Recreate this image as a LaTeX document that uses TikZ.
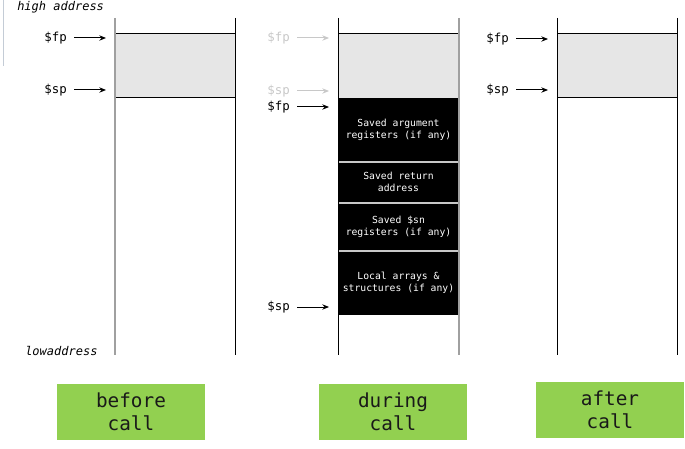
\documentclass[tikz,border=0pt]{standalone}
\usepackage{fontspec}
\setmonofont{DejaVu Sans Mono}
\usetikzlibrary{arrows.meta}
\definecolor{bandgrey}{HTML}{E6E6E6}
\definecolor{lightgrey}{HTML}{C8C8C8}
\definecolor{callgreen}{HTML}{92D050}
\definecolor{colgrey}{HTML}{A0A0A0}
\definecolor{edgeblue}{HTML}{C4CCD6}
\tikzset{
  x=0.75pt, y=-0.75pt,
  ptr/.style={font=\ttfamily\fontsize{9.3}{10}\selectfont, inner sep=0pt, anchor=east},
  ptrarrow/.style={-{Stealth[length=5pt,width=4pt]}, line width=0.75pt},
  addr/.style={font=\ttfamily\itshape\fontsize{9}{10}\selectfont, inner sep=0pt},
  blk/.style={font=\ttfamily\fontsize{7.3}{9}\selectfont, text=white, align=center, inner sep=0pt},
  callbox/.style={fill=callgreen, minimum width=111pt, minimum height=42pt, inner sep=0pt,
    font=\ttfamily\fontsize{14.5}{17}\selectfont, text=black!90, align=center},
  thin/.style={line width=0.75pt}
}
\begin{document}
\begin{tikzpicture}
\useasboundingbox (0,0) rectangle (685,449);
% stray edge line
\draw[edgeblue, line width=0.75pt] (3.5,0) -- (3.5,66);

\node[addr, anchor=west] (hi) at (17,7) {high address};
\node[addr, anchor=west] (lo) at (25,351) {lowaddress};

% ---------- before call ----------
\fill[bandgrey] (115,34) rectangle (235,98);
\draw[thin] (115,34) -- (235,34);
\draw[thin] (115,98) -- (235,98);
\draw[colgrey, line width=1.5pt] (115,18) -- (115,355);
\draw[thin] (235,18) -- (235,355);
\coordinate (bfpT) at (106,38);
\coordinate (bspT) at (106,90);
\node[ptr] (bfp) at (67,38) {\$fp};
\node[ptr] (bsp) at (67,90) {\$sp};
\draw[ptrarrow] ([xshift=5.5pt]bfp.east) -- (bfpT);
\draw[ptrarrow] ([xshift=5.5pt]bsp.east) -- (bspT);

% ---------- during call ----------
\fill[bandgrey] (338,34) rectangle (459,98);
\fill[black] (338,98) rectangle (459,315);
\draw[thin] (338,34) -- (459,34);
\draw[lightgrey, line width=1pt] (338,162) -- (459,162);
\draw[lightgrey, line width=1pt] (338,203) -- (459,203);
\draw[lightgrey, line width=1pt] (338,251) -- (459,251);
\draw[thin] (338,18) -- (338,355);
\draw[colgrey, line width=1.5pt] (459,18) -- (459,355);
\node[blk] (b1) at (398.5,130) {Saved argument\\registers (if any)};
\node[blk] (b2) at (398.5,182) {Saved return\\address};
\node[blk] (b3) at (398.5,227) {Saved \$sn\\registers (if any)};
\node[blk] (b4) at (398.5,283) {Local arrays \&\\structures (if any)};
\coordinate (dfpoT) at (329,38);
\coordinate (dspoT) at (329,91);
\coordinate (dfpT) at (329,107);
\coordinate (dspT) at (329,307);
\node[ptr, text=lightgrey] (dfpo) at (290,38) {\$fp};
\node[ptr, text=lightgrey] (dspo) at (290,91) {\$sp};
\node[ptr] (dfp) at (290,107) {\$fp};
\node[ptr] (dsp) at (290,307) {\$sp};
\draw[ptrarrow, lightgrey] ([xshift=5.5pt]dfpo.east) -- (dfpoT);
\draw[ptrarrow, lightgrey] ([xshift=5.5pt]dspo.east) -- (dspoT);
\draw[ptrarrow] ([xshift=5.5pt]dfp.east) -- (dfpT);
\draw[ptrarrow] ([xshift=5.5pt]dsp.east) -- (dspT);

% ---------- after call ----------
\fill[bandgrey] (557,34) rectangle (677,98);
\draw[thin] (557,34) -- (677,34);
\draw[thin] (557,98) -- (677,98);
\draw[thin] (557,18) -- (557,355);
\draw[thin] (677,18) -- (677,355);
\coordinate (afpT) at (548,39);
\coordinate (aspT) at (548,90);
\node[ptr] (afp) at (509,39) {\$fp};
\node[ptr] (asp) at (509,90) {\$sp};
\draw[ptrarrow] ([xshift=5.5pt]afp.east) -- (afpT);
\draw[ptrarrow] ([xshift=5.5pt]asp.east) -- (aspT);

% ---------- labels ----------
\node[callbox] (before) at (131,412) {before\\call};
\node[callbox] (during) at (393,412) {during\\call};
\node[callbox] (after) at (610,410) {after\\call};
\end{tikzpicture}
\end{document}
